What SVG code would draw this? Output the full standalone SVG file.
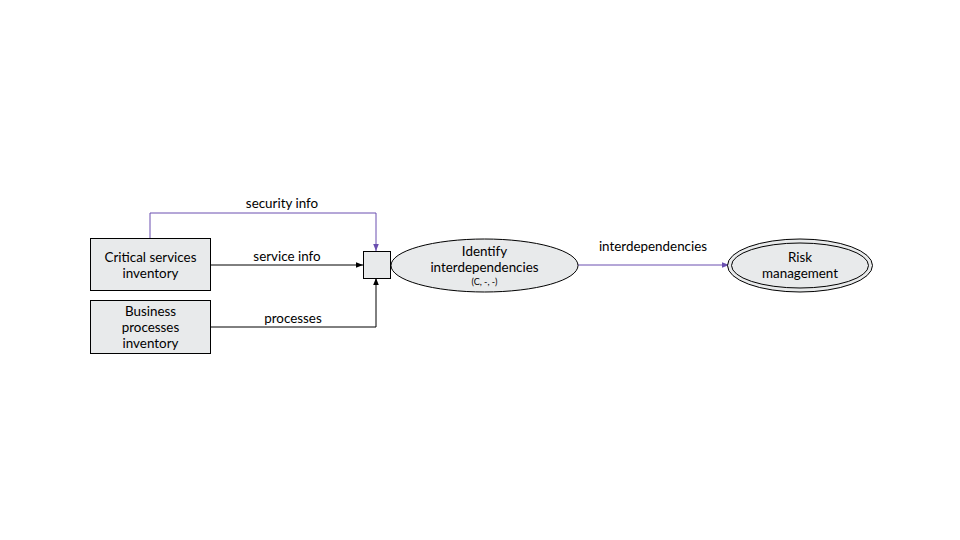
<svg xmlns="http://www.w3.org/2000/svg" width="960" height="540" viewBox="0 0 960 540">
<defs>
<style>
.n{fill:#e8eaeb;stroke:#000;stroke-width:1}
.t{font-family:Lato,"Liberation Sans",sans-serif;font-size:13.4px;fill:#000;text-anchor:middle}
.s{font-size:9px}
.k{fill:none;stroke:#000;stroke-width:1}
.p{fill:none;stroke:#6a4fb0;stroke-width:1}
</style>
<marker id="ak" viewBox="0 0 10 10" refX="10" refY="5" markerWidth="7" markerHeight="7" orient="auto" markerUnits="userSpaceOnUse"><path d="M0,1 L10,5 L0,9 z" fill="#000"/></marker>
<marker id="ap" viewBox="0 0 10 10" refX="10" refY="5" markerWidth="7" markerHeight="7" orient="auto" markerUnits="userSpaceOnUse"><path d="M0,1 L10,5 L0,9 z" fill="#6a4fb0"/></marker>
</defs>
<rect width="960" height="540" fill="#fff"/>
<g id="connectors">
<path class="p" d="M150,238 V213 H376 V251" marker-end="url(#ap)"/>
<text class="t" x="282" y="208">security info</text>
<path class="k" d="M210,265 H363" marker-end="url(#ak)"/>
<text class="t" x="287" y="261">service info</text>
<path class="k" d="M210,327 H376 V278" marker-end="url(#ak)"/>
<text class="t" x="293" y="323">processes</text>
<path class="p" d="M578,265 H729" marker-end="url(#ap)"/>
<text class="t" x="653" y="251">interdependencies</text>
</g>
<g id="critical-services">
<rect class="n" x="90.5" y="238.5" width="120" height="52"/>
<text class="t" x="150.5" y="262">Critical services</text>
<text class="t" x="150.5" y="278">inventory</text>
</g>
<g id="business-processes">
<rect class="n" x="90.5" y="300.5" width="120" height="53"/>
<text class="t" x="150.5" y="316">Business</text>
<text class="t" x="150.5" y="332">processes</text>
<text class="t" x="150.5" y="348">inventory</text>
</g>
<g id="join">
<rect class="n" x="363.5" y="251.5" width="27" height="27"/>
</g>
<g id="identify">
<ellipse class="n" cx="484.5" cy="265.5" rx="93.5" ry="26.5"/>
<text class="t" x="484.5" y="256">Identify</text>
<text class="t" x="484.5" y="272">interdependencies</text>
<text class="t s" x="484.5" y="285">(C, -, -)</text>
</g>
<g id="risk">
<ellipse class="n" cx="800" cy="265.5" rx="72.5" ry="26.5"/>
<ellipse class="k" cx="800" cy="265.5" rx="68.5" ry="22.5"/>
<text class="t" x="800" y="262">Risk</text>
<text class="t" x="800" y="278">management</text>
</g>
</svg>
